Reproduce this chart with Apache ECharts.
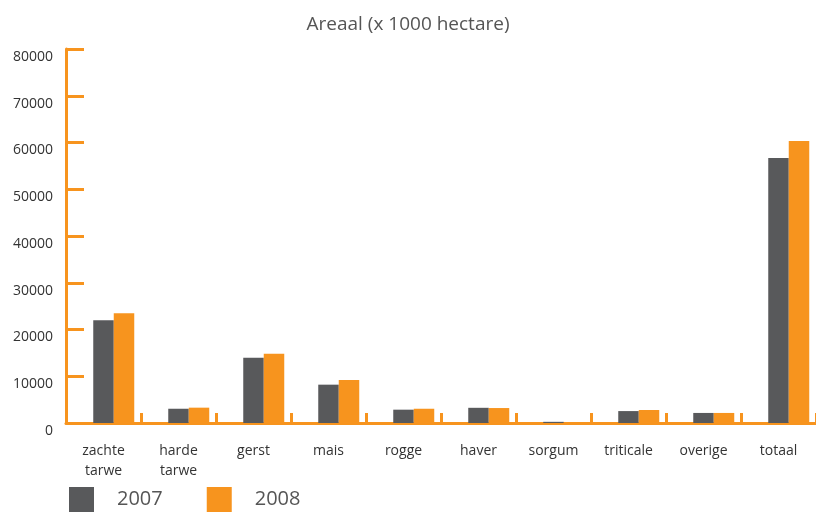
<!DOCTYPE html>
<html>
<head>
<meta charset="utf-8">
<script src="https://cdn.jsdelivr.net/npm/echarts@6/dist/echarts.min.js"></script>
<style>
  html, body { margin: 0; padding: 0; background: #fff; }
  #chart { width: 816px; height: 512px; }
</style>
</head>
<body>
<div id="chart"></div>
<script>
const categories = ['zachte\ntarwe', 'harde\ntarwe', 'gerst', 'mais', 'rogge', 'haver', 'sorgum', 'triticale', 'overige', 'totaal'];
const values2007 = [22000, 3050, 13950, 8200, 2850, 3250, 250, 2550, 2150, 56700];
const values2008 = [23500, 3280, 14800, 9200, 3050, 3200, 150, 2780, 2150, 60300];
const yTicks = { min: 0, max: 80000, interval: 10000 };

const orange = '#f7941e';
const dark = '#58595b';

let myChart = echarts.init(document.getElementById('chart'));

const option = {
  animation: false,
  title: {
    text: 'Areaal (x 1000 hectare)',
    left: 'center',
    top: 10,
    textStyle: {
      fontFamily: 'Open Sans',
      fontSize: 19,
      fontWeight: 'normal',
      color: '#555'
    }
  },
  legend: {
    data: ['2007', '2008'],
    left: 69,
    top: 487,
    padding: 0,
    itemWidth: 25,
    itemHeight: 25,
    itemGap: 44,
    icon: 'rect',
    textStyle: {
      fontFamily: 'Open Sans',
      fontSize: 20,
      color: '#555',
      padding: [10, 0, 0, 18]
    }
  },
  grid: {
    left: 66,
    right: 0,
    top: 49,
    bottom: 89,
    outerBoundsMode: 'none'
  },
  xAxis: {
    type: 'category',
    data: categories,
    axisLine: { lineStyle: { color: orange, width: 3 } },
    axisTick: {
      show: true,
      inside: true,
      length: 10,
      lineStyle: { color: orange, width: 3 }
    },
    axisLabel: {
      fontFamily: 'Open Sans',
      fontSize: 14,
      color: '#333',
      margin: 18,
      lineHeight: 20,
      interval: 0
    }
  },
  yAxis: {
    type: 'value',
    min: yTicks.min,
    max: yTicks.max,
    interval: yTicks.interval,
    axisLine: { show: true, lineStyle: { color: orange, width: 3 } },
    axisTick: {
      show: true,
      inside: true,
      length: 18,
      lineStyle: { color: orange, width: 3 }
    },
    splitLine: { show: false },
    axisLabel: {
      fontFamily: 'Open Sans',
      fontSize: 14,
      color: '#333',
      margin: 13,
      verticalAlign: 'top',
      padding: [1, 0, 0, 0],
      formatter: function (v) {
        return String(v);
      }
    }
  },
  series: [
    {
      // empty slot to push the pair to the right like the original
      name: 'spacer',
      type: 'bar',
      barWidth: 20.5,
      barGap: '0%',
      data: categories.map(() => '-'),
      silent: true
    },
    {
      name: '2007',
      type: 'bar',
      barWidth: 20.5,
      barGap: '0%',
      itemStyle: { color: dark },
      data: values2007
    },
    {
      name: '2008',
      type: 'bar',
      barWidth: 20.5,
      barGap: '0%',
      itemStyle: { color: orange },
      data: values2008
    }
  ]
};

myChart.setOption(option, true);
</script>
</body>
</html>
